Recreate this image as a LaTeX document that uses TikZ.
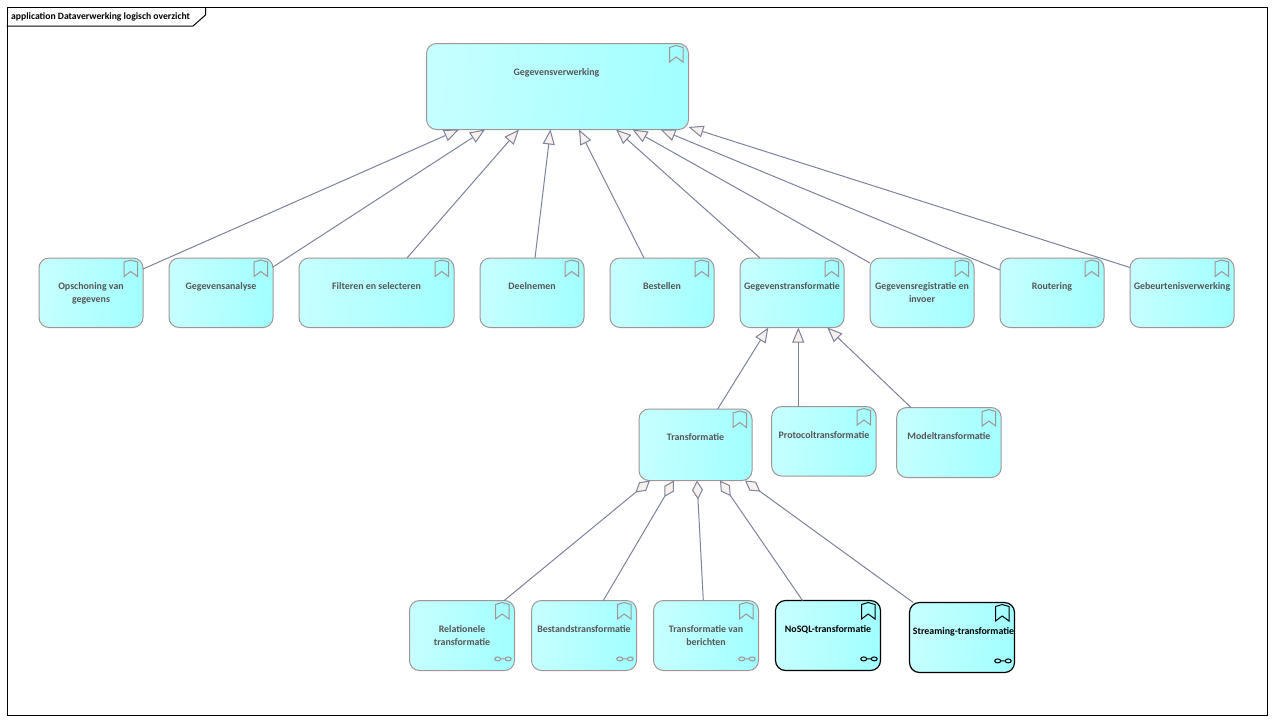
\documentclass[tikz,border=0pt]{standalone}
\usepackage{fontspec}
\setmainfont{Carlito}
\usetikzlibrary{arrows.meta,calc}
\definecolor{boxlight}{HTML}{C6FFFF}
\definecolor{boxdark}{HTML}{A2FFFF}
\definecolor{boxedge}{HTML}{A39494}
\definecolor{boxtext}{HTML}{555555}
\definecolor{linkline}{HTML}{7E839C}
\definecolor{tipfill}{HTML}{F8F0EC}
\newcommand{\boxlabel}[3]{\parbox[c][#2pt][t]{#1pt}{\centering\rule{0pt}{31.5pt}#3}}
\begin{document}
\begin{tikzpicture}[
  x=1pt, y=-1pt,
  font=\fontsize{9.9}{13}\selectfont\bfseries,
  appbox/.style={rectangle, rounded corners=10pt, draw=boxedge, line width=1pt,
                 left color=boxlight, right color=boxdark, shading angle=85,
                 inner sep=0pt, outer sep=0pt, anchor=north west, text=boxtext},
  darkbox/.style={appbox, draw=black, line width=1.2pt, text=black},
  genline/.style={draw=linkline, line width=1pt,
                  -{Triangle[length=15pt,width=12pt,fill=tipfill]}},
  aggline/.style={draw=linkline, line width=1pt,
                  -{Diamond[length=19pt,width=11pt,fill=tipfill]}},
  bookmark/.pic={\draw[line width=1pt, pic actions]
    (-19,4) -- (-12.3,2) -- (-5.5,4) -- (-5.5,18.5) -- (-12.3,13.5) -- (-19,18.5) -- cycle;},
  complink/.pic={\draw[line width=1pt, pic actions]
    (-16.8,-11.6) ellipse (3pt and 2pt) (-13.8,-11.6) -- (-9.3,-11.6) (-6.3,-11.6) ellipse (3pt and 2pt);},
]
\useasboundingbox (0,0) rectangle (1273,721);
\fill[white] (0,0) rectangle (1273,721);

% ===== frame and title tab =====
\node (frame) [draw=black, line width=1pt, inner sep=0pt, minimum width=1260pt, minimum height=708pt,
               anchor=north west] at (6.5,7) {};
\draw[black, line width=1pt] (205.5,7) -- (205.5,15) -- (193,26) -- (6.5,26);
\node (title) [anchor=west, text=black, inner sep=0pt, font=\fontsize{9.65}{13}\selectfont\bfseries]
  at (11,16.5) {application Dataverwerking logisch overzicht};

% ===== top box =====
\node (main) [appbox] at (426.5,43.5) {\parbox[c][86pt][t]{262pt}{\centering\rule{0pt}{32pt}\hspace*{-2pt}Gegevensverwerking}};

% ===== row of functions =====
\foreach \n/\x/\w/\lbl in {opschoning/39/104/{Opschoning van\\gegevens},
    analyse/169/104/{Gegevensanalyse},
    filteren/299/155/{Filteren en selecteren},
    deelnemen/480/104/{Deelnemen},
    bestellen/610/104/{Bestellen},
    gtrans/740/104/{Gegevenstransformatie},
    registratie/870/104/{Gegevensregistratie en\\invoer},
    routering/1000/104/{Routering},
    gebeurtenis/1130/104/{Gebeurtenisverwerking}}{
  \node (\n) [appbox] at (\x,258) {\boxlabel{\w}{69.5}{\lbl}};
}

% ===== second level =====
\node (transform) [appbox] at (639,409) {\boxlabel{113}{71.5}{Transformatie}};
\node (protocol) [appbox] at (771.7,406.5) {\boxlabel{104.5}{69.5}{Protocoltransformatie}};
\node (model) [appbox] at (896.7,407.5) {\boxlabel{104.5}{70}{Modeltransformatie}};

% ===== third level =====
\node (relationeel) [appbox] at (409.5,600.5) {\boxlabel{105}{70}{Relationele\\transformatie}};
\node (bestand) [appbox] at (531.5,600.5) {\boxlabel{105}{70}{Bestandstransformatie}};
\node (berichten) [appbox] at (653.5,600.5) {\boxlabel{105}{70}{Transformatie van\\berichten}};
\node (nosql) [darkbox] at (775.5,600.5) {\boxlabel{105}{70}{NoSQL-transformatie}};
\node (streaming) [darkbox] at (909.5,602.5) {\boxlabel{105}{70}{\hspace*{3pt}Streaming-transformatie}};

% icons in the corners
\foreach \n in {main,opschoning,analyse,filteren,deelnemen,bestellen,gtrans,registratie,routering,
    gebeurtenis,transform,protocol,model,relationeel,bestand,berichten}{
  \pic[draw=boxedge] at (\n.north east) {bookmark};
}
\foreach \n in {nosql,streaming}{
  \pic[draw=black] at (\n.north east) {bookmark};
  \pic[draw=black] at (\n.south east) {complink};
}
\foreach \n in {relationeel,bestand,berichten}{
  \pic[draw=boxedge] at (\n.south east) {complink};
}

% ===== specialisation arrows =====
\foreach \n/\sx/\sy/\tx in {opschoning/104/11/32.5, analyse/104/9/58.5, filteren/108/0/92.5,
    deelnemen/55/0/124, bestellen/34/0/152.5, gtrans/20/0/189.5,
    registratie/0/5/206, routering/0/12/234}{
  \draw[genline] ($(\n.north west)+(\sx,\sy)$) -- ($(main.south west)+(\tx,0)$);
}
\draw[genline] ($(gebeurtenis.north west)+(0,9.5)$) -- ($(main.south east)+(0,-2.5)$);

\foreach \n/\sx/\sy/\tx in {transform/78.7/0/28.3, protocol/26.6/0/58.3, model/14.3/0/87.3}{
  \draw[genline] ($(\n.north west)+(\sx,\sy)$) -- ($(gtrans.south west)+(\tx,0)$);
}

% ===== aggregation lines =====
\foreach \n/\sx/\tx in {relationeel/94.7/11, bestand/71.8/35, berichten/49.8/58, nosql/27/81, streaming/3.7/106}{
  \draw[aggline] ($(\n.north west)+(\sx,0)$) -- ($(transform.south west)+(\tx,0)$);
}
\end{tikzpicture}
\end{document}
